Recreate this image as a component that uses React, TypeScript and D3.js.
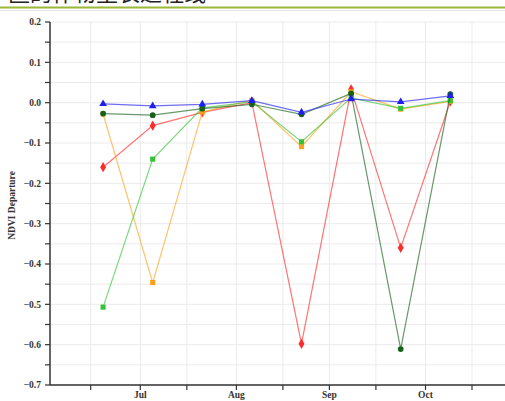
import React from "react";
import * as d3 from "d3";

const dates = ["2013-07-05", "2013-07-21", "2013-08-06", "2013-08-22", "2013-09-07", "2013-09-23", "2013-10-09", "2013-10-25"];
const redValues = [-0.16, -0.057, -0.024, 0.0, -0.598, 0.033, -0.36, 0.003];
const orangeValues = [-0.028, -0.446, -0.023, 0.006, -0.109, 0.027, -0.016, 0.003];
const lightGreenValues = [-0.507, -0.14, -0.013, 0.002, -0.097, 0.012, -0.014, 0.005];
const darkGreenValues = [-0.027, -0.031, -0.015, -0.004, -0.029, 0.023, -0.611, 0.021];
const blueValues = [-0.003, -0.008, -0.004, 0.005, -0.024, 0.009, 0.002, 0.017];
const yTickValues = [0.2, 0.1, 0.0, -0.1, -0.2, -0.3, -0.4, -0.5, -0.6, -0.7];
const monthLabels = ["Jul", "Aug", "Sep", "Oct"];
const monthStarts = ["2013-07-01", "2013-08-01", "2013-09-01", "2013-10-01", "2013-11-01"];
const monthMids = ["2013-07-17", "2013-08-17", "2013-09-16", "2013-10-17"];

const series = [
  { name: "red", values: redValues, color: "#ff2a2a", marker: "diamond" },
  { name: "orange", values: orangeValues, color: "#ffa21a", marker: "square" },
  { name: "lightgreen", values: lightGreenValues, color: "#35c335", marker: "square" },
  { name: "darkgreen", values: darkGreenValues, color: "#17621a", marker: "circle" },
  { name: "blue", values: blueValues, color: "#2020ee", marker: "triangle" },
];

const parse = (s: string) => new Date(s + "T00:00:00Z");

export default function App() {
  const W = 505, H = 401;
  const left = 50, right = 505, top = 22, bottom = 385;
  const x = d3.scaleUtc().domain([parse("2013-07-01"), parse("2013-11-01")]).range([90.7, 472]);
  const y = d3.scaleLinear().domain([-0.7, 0.2]).range([bottom, top]);
  const minorY = d3.range(-0.7, 0.2001, 0.05);
  const xTicks = [...monthStarts, ...monthMids].map(parse);
  const line = d3.line<[Date, number]>().x((d) => x(d[0])).y((d) => y(d[1]));
  const symbolFor = (m: string) =>
    m === "diamond" ? d3.symbolDiamond : m === "square" ? d3.symbolSquare : m === "triangle" ? d3.symbolTriangle : d3.symbolCircle;
  const sizeFor = (m: string) => (m === "diamond" ? 30 : 26);
  const font = "'Liberation Serif', 'Times New Roman', serif";

  return (
    <svg width={W} height={H} style={{ position: "absolute", left: 0, top: 0, background: "#fff" }}>
      <text x={8} y={1} fontFamily="'Noto Sans CJK SC'" fontSize={22} fill="#222">区的作物生长过程线</text>
      <line x1={0} x2={W} y1={7.5} y2={7.5} stroke="#9ab83a" strokeWidth={2} />
      <line x1={0} x2={W} y1={10.5} y2={10.5} stroke="#e6e6e6" strokeWidth={1} />
      <g>
        {minorY.map((v, i) => (
          <line key={"hg" + i} x1={left} x2={right} y1={y(v)} y2={y(v)} stroke="#ebebeb" strokeWidth={1} />
        ))}
        {xTicks.map((d, i) => (
          <line key={"vg" + i} x1={x(d)} x2={x(d)} y1={top} y2={bottom} stroke="#ebebeb" strokeWidth={1} />
        ))}
      </g>
      {series.map((s) => {
        const pts: [Date, number][] = s.values.map((v, i) => [parse(dates[i]), v]);
        return (
          <g key={s.name}>
            <path d={line(pts) || ""} fill="none" stroke={s.color} strokeOpacity={0.65} strokeWidth={1.2} />
            {pts.map((p, i) => (
              <path
                key={i}
                transform={`translate(${x(p[0])},${y(p[1])})`}
                d={d3.symbol().type(symbolFor(s.marker)).size(sizeFor(s.marker))() || ""}
                fill={s.color}
              />
            ))}
          </g>
        );
      })}
      <line x1={left} x2={left} y1={top} y2={bottom} stroke="#333" strokeWidth={1.5} />
      <line x1={left} x2={right} y1={bottom} y2={bottom} stroke="#333" strokeWidth={1.5} />
      {minorY.map((v, i) => (
        <line key={"yt" + i} x1={left - 5} x2={left} y1={y(v)} y2={y(v)} stroke="#333" strokeWidth={1.2} />
      ))}
      {yTickValues.map((v, i) => (
        <text key={"yl" + i} x={left - 9} y={y(v)} dy="0.35em" textAnchor="end" fontFamily={font} fontWeight="bold" fontSize={9.5} fill="#333">
          {d3.format(".1f")(v)}
        </text>
      ))}
      {xTicks.map((d, i) => (
        <line key={"xt" + i} x1={x(d)} x2={x(d)} y1={bottom} y2={bottom + 5} stroke="#333" strokeWidth={1.2} />
      ))}
      {monthMids.map((m, i) => (
        <text key={"xl" + i} x={x(parse(m))} y={bottom + 13} textAnchor="middle" fontFamily={font} fontWeight="bold" fontSize={9.5} fill="#333">
          {monthLabels[i]}
        </text>
      ))}
      <text transform={`translate(15,${(top + bottom) / 2 + 2}) rotate(-90)`} textAnchor="middle" fontFamily={font} fontWeight="bold" fontSize={9.5} fill="#333">
        NDVI Departure
      </text>
    </svg>
  );
}
